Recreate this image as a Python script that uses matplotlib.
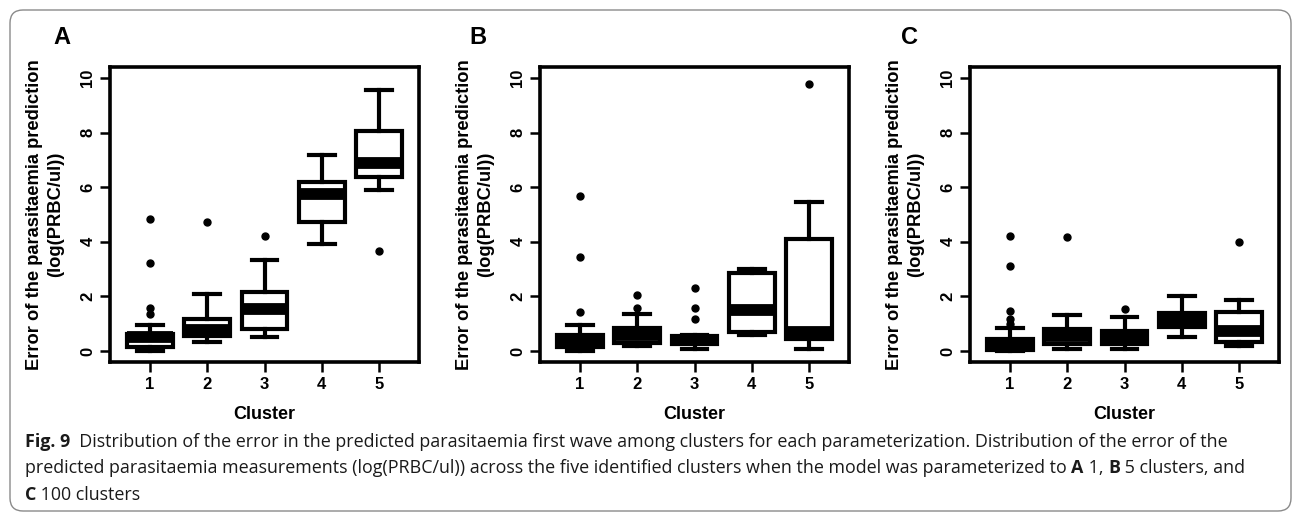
import matplotlib
matplotlib.use("Agg")
import matplotlib.pyplot as plt
from matplotlib.patches import FancyBboxPatch

plt.rcParams['font.family'] = ['Liberation Sans', 'DejaVu Sans']
plt.rcParams['font.weight'] = 'bold'

clusters = [1, 2, 3, 4, 5]
panel_names = ['A', 'B', 'C']

# box statistics: median, q1, q3, whisker low, whisker high, outliers
a_med = [0.50, 0.78, 1.53, 5.75, 6.90]
a_q1 = [0.16, 0.55, 0.82, 4.71, 6.36]
a_q3 = [0.61, 1.16, 2.15, 6.18, 8.05]
a_lo = [0.00, 0.34, 0.53, 3.92, 5.90]
a_hi = [0.95, 2.08, 3.34, 7.16, 9.57]
a_out = [[1.35, 1.57, 3.24, 4.83], [4.72], [4.22], [], [3.65]]

b_med = [0.40, 0.58, 0.40, 1.50, 0.70]
b_q1 = [0.16, 0.30, 0.25, 0.70, 0.45]
b_q3 = [0.60, 0.83, 0.57, 2.85, 4.10]
b_lo = [0.02, 0.20, 0.09, 0.59, 0.09]
b_hi = [0.95, 1.37, 0.60, 3.02, 5.47]
b_out = [[1.43, 3.43, 5.67], [1.57, 2.06], [1.16, 1.57, 2.30], [], [9.78]]

c_med = [0.30, 0.55, 0.48, 1.15, 0.75]
c_q1 = [0.05, 0.25, 0.25, 0.88, 0.33]
c_q3 = [0.45, 0.80, 0.72, 1.38, 1.44]
c_lo = [0.00, 0.06, 0.06, 0.53, 0.18]
c_hi = [0.86, 1.32, 1.25, 2.00, 1.86]
c_out = [[0.98, 1.16, 1.47, 3.12, 4.21], [4.19], [1.53], [], [4.00]]

panels = [
    (a_med, a_q1, a_q3, a_lo, a_hi, a_out),
    (b_med, b_q1, b_q3, b_lo, b_hi, b_out),
    (c_med, c_q1, c_q3, c_lo, c_hi, c_out),
]

W, H = 1293, 513
fig = plt.figure(figsize=(W / 100, H / 100), dpi=100)

# rounded frame round figure + caption (in inches)
frame = FancyBboxPatch((0.10, 0.02), 12.81, 5.01,
                       boxstyle="round,pad=0,rounding_size=0.13",
                       transform=fig.dpi_scale_trans, facecolor='none',
                       edgecolor='#8a8a8a', linewidth=1.0)
fig.patches.append(frame)

lefts = [110, 540, 970]
letter_x = [62, 478, 909]
for i, (med, q1, q3, lo, hi, out) in enumerate(panels):
    ax = fig.add_axes([lefts[i] / W, 1 - 362 / H, 309 / W, 295 / H])
    stats = []
    for k in range(len(clusters)):
        stats.append({'med': med[k], 'q1': q1[k], 'q3': q3[k],
                      'whislo': lo[k], 'whishi': hi[k], 'fliers': out[k]})
    ax.bxp(stats, positions=clusters, widths=0.8, capwidths=0.45,
           patch_artist=True,
           boxprops=dict(facecolor='white', edgecolor='black', linewidth=3.0),
           medianprops=dict(color='black', linewidth=8.5, solid_capstyle='butt'),
           whiskerprops=dict(color='black', linewidth=3.0, linestyle='-'),
           capprops=dict(color='black', linewidth=3.0),
           flierprops=dict(marker='o', markerfacecolor='black',
                           markeredgecolor='black', markersize=5))
    ax.set_xlim(0.3, 5.7)
    ax.set_ylim(-0.4, 10.4)
    ax.set_xticks(clusters)
    ax.set_xticklabels([str(c) for c in clusters])
    ax.set_yticks([0, 2, 4, 6, 8, 10])
    for sp in ax.spines.values():
        sp.set_linewidth(2.6)
    ax.tick_params(axis='both', width=1.8, length=7, labelsize=12)
    ax.tick_params(axis='x', pad=3.5)
    ax.tick_params(axis='y', pad=3.5)
    for lab in ax.get_xticklabels() + ax.get_yticklabels():
        lab.set_fontweight('bold')
    for lab in ax.get_yticklabels():
        lab.set_rotation(90)
        lab.set_va('center')
    ax.set_xlabel('Cluster', fontsize=13, fontweight='bold')
    ax.xaxis.set_label_coords(0.5, -0.149)
    ax.text(-0.209, 0.5, 'Error of the parasitaemia prediction\n(log(PRBC/ul))',
            transform=ax.transAxes, rotation=90, ha='center', va='center',
            multialignment='center', linespacing=1.3, fontsize=13.2,
            fontweight='bold')
    fig.text(letter_x[i] / W, 1 - 37 / H, panel_names[i], ha='center',
             va='center', fontsize=17, fontweight='bold')

# caption with bold runs
cap_font = ['Open Sans', 'DejaVu Sans']
cap_size = 12.9
caption_lines = [
    [('Fig. 9', 'bold'), ('  Distribution of the error in the predicted parasitaemia first wave among clusters for each parameterization. Distribution of the error of the', 'normal')],
    [('predicted parasitaemia measurements (log(PRBC/ul)) across the five identified clusters when the model was parameterized to ', 'normal'),
     ('A', 'bold'), (' 1, ', 'normal'), ('B', 'bold'), (' 5 clusters, and', 'normal')],
    [('C', 'bold'), (' 100 clusters', 'normal')],
]
baselines = [447, 473, 500]
renderer = fig.canvas.get_renderer()
for line, yb in zip(caption_lines, baselines):
    x = 25
    for txt, wt in line:
        t = fig.text(x / W, 1 - yb / H, txt, family=cap_font, fontsize=cap_size,
                     fontweight=wt, ha='left', va='baseline', color='#1a1a1a')
        bb = t.get_window_extent(renderer=renderer)
        x += bb.width

fig.savefig('out.png', dpi=100)
